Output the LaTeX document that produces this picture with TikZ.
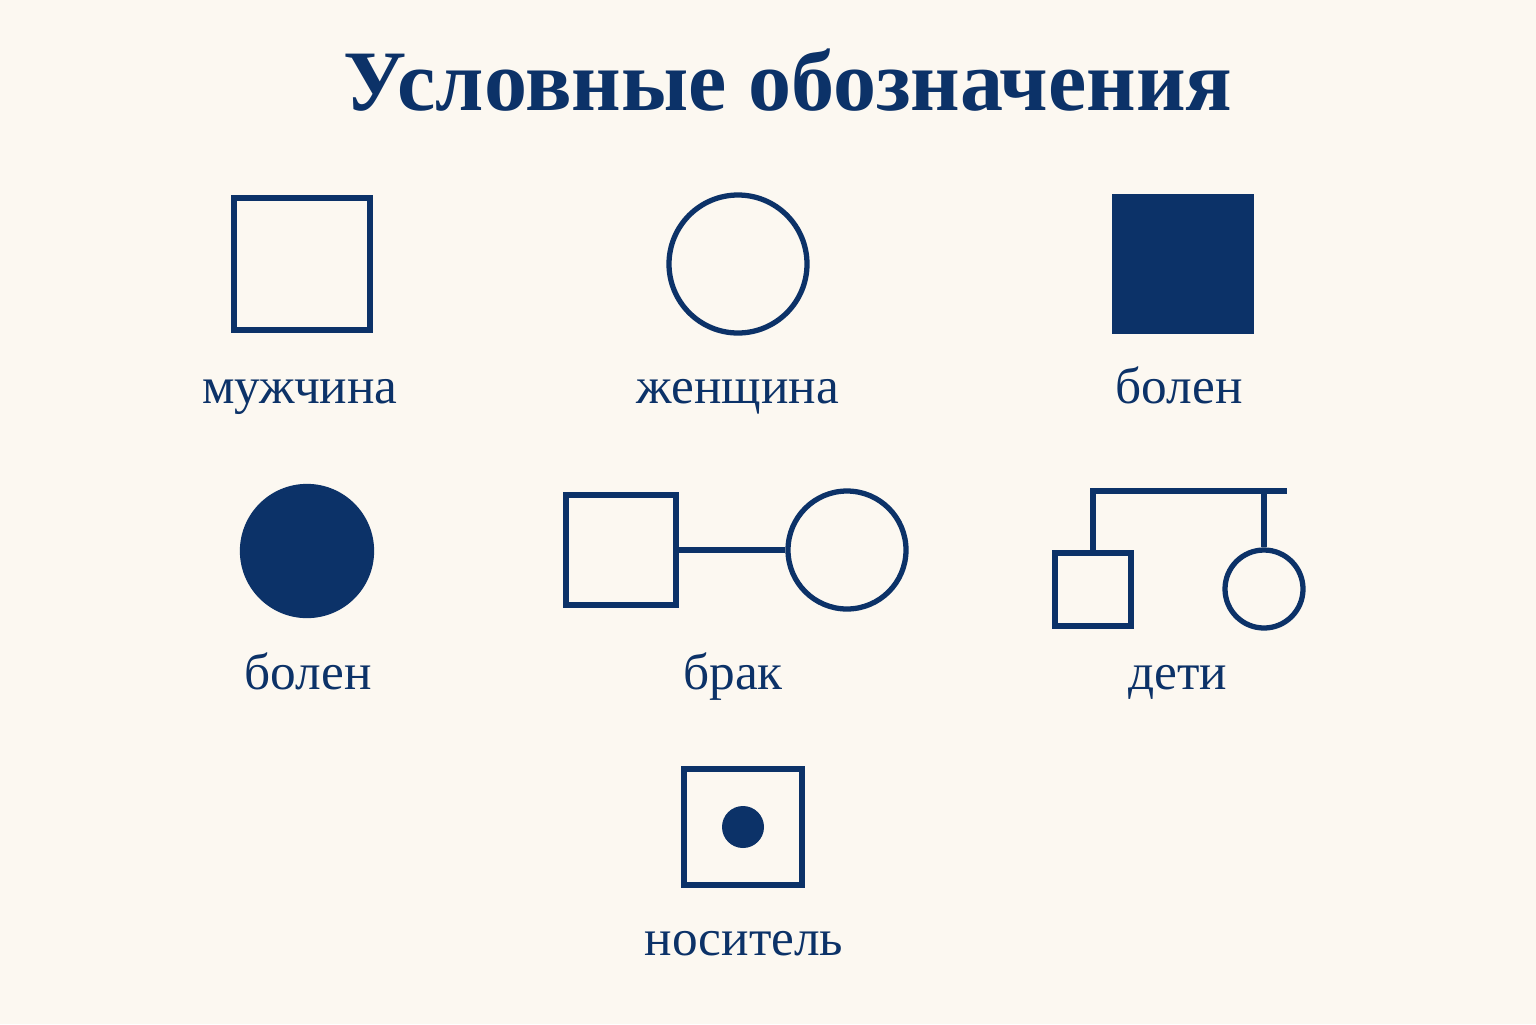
\documentclass[tikz,border=0pt]{standalone}
\usepackage{fontspec}
\setmainfont{Liberation Serif}
\usepackage{xcolor}
\usetikzlibrary{positioning}
\definecolor{navy}{RGB}{12,50,104}
\definecolor{paper}{RGB}{252,248,241}

\begin{document}
\begin{tikzpicture}[
    male/.style={draw=navy, line width=1.5pt, rectangle, inner sep=0pt},
    female/.style={draw=navy, line width=1.5pt, circle, inner sep=0pt},
    sick/.style={fill=navy},
    legendtext/.style={text=navy, anchor=base, font=\fontsize{14.6}{17}\selectfont, inner sep=0pt},
    link/.style={draw=navy, line width=1.5pt}
  ]
            % page background
            \fill[paper] (0,0) rectangle (15.36,-10.24);
            \node[text=navy, anchor=base, font=\fontsize{24.5}{28}\selectfont\bfseries, inner sep=0pt] (title) at (7.88,-1.10) {Условные обозначения};

            % first row
            \node[male, minimum width=1.36cm, minimum height=1.32cm] (man) at (3.02,-2.64) {};
            \node[female, minimum size=1.38cm] (woman) at (7.38,-2.64) {};
            \node[male, sick, minimum width=1.36cm, minimum height=1.34cm] (sickman) at (11.83,-2.64) {};
            \node[legendtext] (manlbl) at (3.00,-4.03) {мужчина};
            \node[legendtext] (womanlbl) at (7.38,-4.03) {женщина};
            \node[legendtext] (sickmanlbl) at (11.79,-4.03) {болен};

            % second row
            \node[female, sick, minimum size=1.29cm] (sickwoman) at (3.07,-5.51) {};
            \node[male, minimum size=1.10cm] (husband) at (6.21,-5.50) {};
            \node[female, minimum size=1.18cm] (wife) at (8.47,-5.50) {};
            \draw[link] (husband) -- (wife);
            \node[male, minimum width=0.76cm, minimum height=0.73cm] (son) at (10.93,-5.895) {};
            \node[female, minimum size=0.78cm] (daughter) at (12.64,-5.89) {};
            \coordinate (sibleft) at (10.93,-4.91);
            \coordinate (sibright) at (12.64,-4.91);
            \coordinate (sibend) at (12.87,-4.91);
            \draw[link] (son.north) -- (sibleft) -- (sibend);
            \draw[link] (sibright) -- (daughter.north);
            \node[legendtext] (sickwomanlbl) at (3.08,-6.89) {болен};
            \node[legendtext] (marriagelbl) at (7.33,-6.89) {брак};
            \node[legendtext] (childrenlbl) at (11.78,-6.89) {дети};

            % third row
            \node[male, minimum width=1.18cm, minimum height=1.16cm] (carrier) at (7.43,-8.27) {};
            \node[circle, fill=navy, minimum size=0.42cm, inner sep=0pt] (carrierdot) at (carrier.center) {};
            \node[legendtext] (carrierlbl) at (7.44,-9.55) {носитель};
        \end{tikzpicture}
\end{document}
